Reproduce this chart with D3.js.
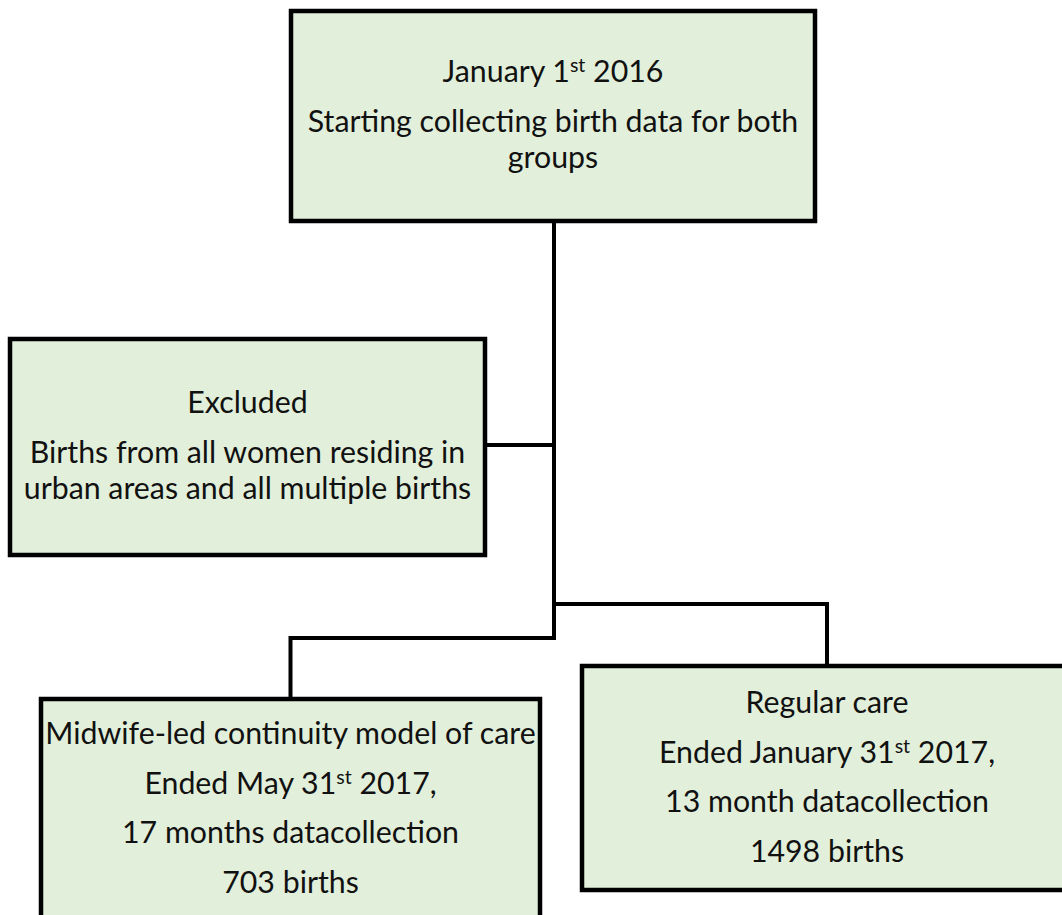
<!DOCTYPE html>
<html>
<head>
<meta charset="utf-8">
<script src="https://cdn.jsdelivr.net/npm/d3@7"></script>
<style>
  html, body { margin: 0; padding: 0; background: #ffffff; }
  svg { display: block; }
</style>
</head>
<body>
<svg id="chart" width="1062" height="915"></svg>
<script>
// ---- content (paragraphs -> wrapped lines; ^...^ marks superscript) ----
const startParas    = [["January 1^st^ 2016"], ["Starting collecting birth data for both", "groups"]];
const excludedParas = [["Excluded"], ["Births from all women residing in", "urban areas and all multiple births"]];
const midwifeParas  = [["Midwife-led continuity model of care"], ["Ended May 31^st^ 2017,"], ["17 months datacollection"], ["703 births"]];
const regularParas  = [["Regular care"], ["Ended January 31^st^ 2017,"], ["13 month datacollection"], ["1498 births"]];

// ---- layout ----
const FILL = "#e2efda", STROKE = "#000000";
const FONT = "Lato, 'Open Sans', sans-serif", FS = 30.3, SUP_FS = 19.5, SUP_RAISE = 10;
const PARA_GAP = 49.5, LINE_GAP = 36.6;

const boxes = [
  { id: "start",    paras: startParas,    x: 291, y: 11,  w: 524, h: 210, firstBase: 71 },
  { id: "excluded", paras: excludedParas, x: 10,  y: 339, w: 475, h: 216, firstBase: 74 },
  { id: "midwife",  paras: midwifeParas,  x: 41,  y: 699, w: 499, h: 226, firstBase: 45 },
  { id: "regular",  paras: regularParas,  x: 582, y: 666, w: 490, h: 224, firstBase: 47 }
];
const byId = Object.fromEntries(boxes.map(b => [b.id, b]));
const trunkX = 554, rightBranchY = 604, leftBranchY = 638, exclY = 445;

const svg = d3.select("#chart");

// connectors
const B = byId;
const cx = b => b.x + b.w / 2;
const edges = [
  [[trunkX, B.start.y + B.start.h], [trunkX, leftBranchY]],
  [[B.excluded.x + B.excluded.w, exclY], [trunkX, exclY]],
  [[trunkX, rightBranchY], [cx(B.regular), rightBranchY], [cx(B.regular), B.regular.y]],
  [[trunkX, leftBranchY], [cx(B.midwife), leftBranchY], [cx(B.midwife), B.midwife.y]]
];
const line = d3.line();
svg.append("g").selectAll("path").data(edges).join("path")
  .attr("d", line)
  .attr("fill", "none")
  .attr("stroke", STROKE)
  .attr("stroke-width", 4)
  .attr("stroke-linecap", "square")
  .attr("stroke-linejoin", "miter");

// boxes
const g = svg.append("g").selectAll("g").data(boxes).join("g");
g.append("rect")
  .attr("x", d => d.x).attr("y", d => d.y)
  .attr("width", d => d.w).attr("height", d => d.h)
  .attr("fill", FILL).attr("stroke", STROKE).attr("stroke-width", 4.5);

function layoutLines(b) {
  const out = [];
  let y = b.y + b.firstBase;
  b.paras.forEach((p, pi) => {
    if (pi > 0) y += PARA_GAP;
    p.forEach((l, li) => {
      if (li > 0) y += LINE_GAP;
      out.push({ text: l, x: cx(b), y: y });
    });
  });
  return out;
}

g.each(function (b) {
  const sel = d3.select(this);
  layoutLines(b).forEach(L => {
    const t = sel.append("text")
      .attr("x", L.x).attr("y", L.y)
      .attr("text-anchor", "middle")
      .attr("font-family", FONT)
      .attr("font-size", FS)
      .attr("fill", "#111");
    const parts = L.text.split("^");
    parts.forEach((s, i) => {
      if (!s) return;
      const sup = i % 2 === 1;
      const span = t.append("tspan").text(s);
      if (sup) span.attr("font-size", SUP_FS).attr("dy", -SUP_RAISE);
      else if (i > 0) span.attr("dy", SUP_RAISE);
    });
  });
});
</script>
</body>
</html>
